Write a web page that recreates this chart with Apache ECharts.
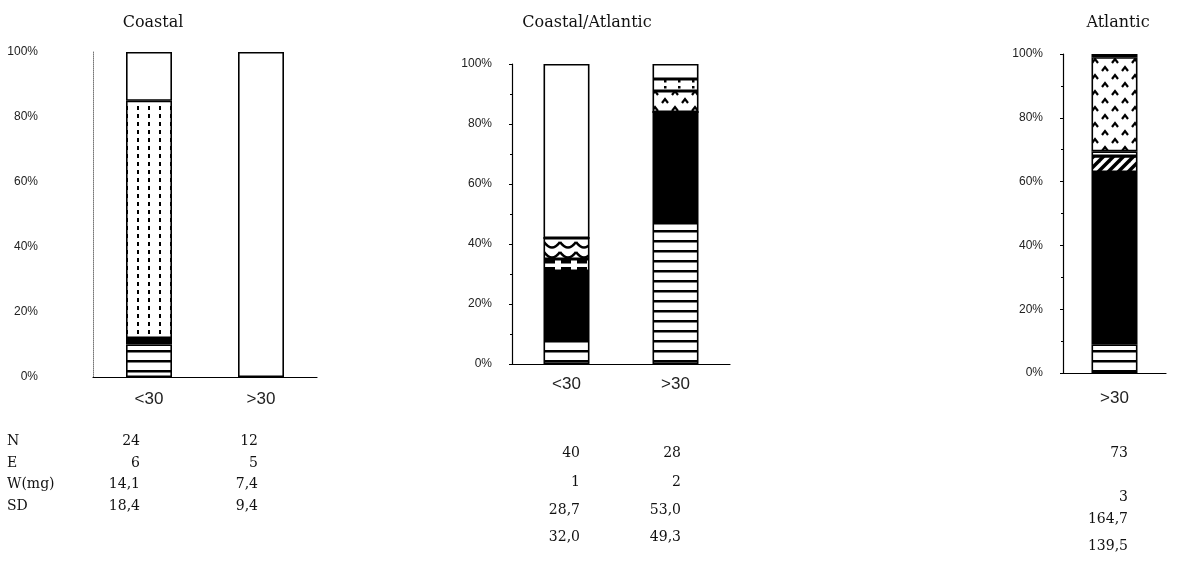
<!DOCTYPE html>
<html>
<head>
<meta charset="utf-8">
<script src="https://cdn.jsdelivr.net/npm/echarts@6/dist/echarts.min.js"></script>
<style>
html,body{margin:0;padding:0;background:#fff;}
#chart{width:1183px;height:573px;}
</style>
</head>
<body>
<div id="chart"></div>
<script>
// ---------- DATA ----------
const panelTitles = ['Coastal', 'Coastal/Atlantic', 'Atlantic'];
const yTickLabels = ['0%', '20%', '40%', '60%', '80%', '100%'];

// Panel 1: Coastal (percent of each bar, bottom to top)
const coastalCategories = ['<30', '>30'];
const coastalStriped = [10, 0];
const coastalBlack = [2, 0];
const coastalDotted = [73, 0];
const coastalBlank = [15, 100];

// Panel 2: Coastal/Atlantic
const mixedCategories = ['<30', '>30'];
const mixedStriped = [8, 47];
const mixedBlack = [23, 37];
const mixedDashed = [4, 0];
const mixedWavy = [7, 0];
const mixedCaret = [0, 7];
const mixedSpeckled = [0, 4];
const mixedBlank = [58, 5];

// Panel 3: Atlantic
const atlanticCategories = ['>30'];
const atlanticStriped = [9];
const atlanticBlack = [54];
const atlanticHatched = [5];
const atlanticGap = [1.5];
const atlanticCaret = [29.5];
const atlanticBlank = [1];

// Table under the bars
const statLabels = ['N', 'E', 'W(mg)', 'SD'];
const coastalLt30Stats = ['24', '6', '14,1', '18,4'];
const coastalGt30Stats = ['12', '5', '7,4', '9,4'];
const mixedLt30Stats = ['40', '1', '28,7', '32,0'];
const mixedGt30Stats = ['28', '2', '53,0', '49,3'];
const atlanticGt30Stats = ['73', '3', '164,7', '139,5'];

// ---------- PATTERNS ----------
function makePattern(w, h, draw) {
  const c = document.createElement('canvas');
  c.width = w; c.height = h;
  const ctx = c.getContext('2d');
  ctx.fillStyle = '#fff'; ctx.fillRect(0, 0, w, h);
  ctx.fillStyle = '#000'; ctx.strokeStyle = '#000';
  draw(ctx);
  return { image: c, repeat: 'repeat' };
}
const P = {
  striped: makePattern(8, 10, ctx => ctx.fillRect(0, 0, 8, 2.5)),
  black: '#000',
  dotted: makePattern(11, 8, ctx => ctx.fillRect(5, 2, 2, 4)),
  dashed: makePattern(16, 7, ctx => { ctx.fillRect(1, 1, 10, 3.5); }),
  wavy: makePattern(16, 10, ctx => {
    ctx.lineWidth = 2.5; ctx.beginPath(); ctx.moveTo(0, 2);
    ctx.quadraticCurveTo(8, 13, 16, 2); ctx.stroke();
  }),
  caret: makePattern(20, 16, ctx => {
    ctx.lineWidth = 2.2;
    ctx.beginPath(); ctx.moveTo(2, 7); ctx.lineTo(5, 3); ctx.lineTo(8, 7); ctx.stroke();
    ctx.beginPath(); ctx.moveTo(12, 15); ctx.lineTo(15, 11); ctx.lineTo(18, 15); ctx.stroke();
  }),
  speckled: makePattern(14, 6, ctx => ctx.fillRect(6, 2, 2.5, 2.5)),
  hatched: makePattern(10, 10, ctx => {
    ctx.lineWidth = 3.5;
    ctx.beginPath(); ctx.moveTo(-2, 12); ctx.lineTo(12, -2); ctx.stroke();
    ctx.beginPath(); ctx.moveTo(-7, 7); ctx.lineTo(7, -7); ctx.stroke();
    ctx.beginPath(); ctx.moveTo(3, 17); ctx.lineTo(17, 3); ctx.stroke();
  }),
  blank: '#fff'
};

function seg(name, data, idx, fill) {
  return {
    type: 'bar', name: name, data: data, stack: 'p' + idx,
    xAxisIndex: idx, yAxisIndex: idx, barWidth: 46,
    itemStyle: { color: fill, borderColor: '#000', borderWidth: 1.6 },
    emphasis: { disabled: true }, silent: true
  };
}

const series = [
  seg('striped', coastalStriped, 0, P.striped),
  seg('black', coastalBlack, 0, P.black),
  seg('dotted', coastalDotted, 0, P.dotted),
  seg('blank', coastalBlank, 0, P.blank),

  seg('striped', mixedStriped, 1, P.striped),
  seg('black', mixedBlack, 1, P.black),
  seg('dashed', mixedDashed, 1, P.dashed),
  seg('wavy', mixedWavy, 1, P.wavy),
  seg('caret', mixedCaret, 1, P.caret),
  seg('speckled', mixedSpeckled, 1, P.speckled),
  seg('blank', mixedBlank, 1, P.blank),

  seg('striped', atlanticStriped, 2, P.striped),
  seg('black', atlanticBlack, 2, P.black),
  seg('hatched', atlanticHatched, 2, P.hatched),
  seg('gap', atlanticGap, 2, P.blank),
  seg('caret', atlanticCaret, 2, P.caret),
  seg('blank', atlanticBlank, 2, P.blank)
];

const sansLabel = { fontFamily: 'Liberation Sans', fontSize: 12, color: '#222' };
const grids = [
  { left: 93, top: 52, width: 224, height: 325 },
  { left: 512, top: 64, width: 218, height: 300 },
  { left: 1063, top: 54, width: 103, height: 319 }
];
const catMargins = [14, 12, 17];
const yMargins = [55, 20, 20];
const cats = [coastalCategories, mixedCategories, atlanticCategories];

const xAxes = cats.map((c, i) => ({
  type: 'category', gridIndex: i, data: c,
  axisLine: { lineStyle: { color: '#000', width: 1.2 } },
  axisTick: { show: false },
  axisLabel: { fontFamily: 'Liberation Sans', fontSize: 17, color: '#222', margin: catMargins[i] }
}));
const yAxes = [0, 1, 2].map(i => ({
  type: 'value', gridIndex: i, min: 0, max: 100, interval: 20,
  axisLine: { show: true, lineStyle: i === 0 ? { color: '#777', type: 'dotted', width: 1 } : { color: '#000', width: 1.2 } },
  axisTick: { show: i !== 0, length: 3, lineStyle: { color: '#000' } },
  minorTick: { show: i !== 0, splitNumber: 2, length: 2, lineStyle: { color: '#000' } },
  splitLine: { show: false },
  axisLabel: Object.assign({}, sansLabel, {
    margin: yMargins[i],
    formatter: v => yTickLabels[Math.round(v / 20)]
  })
}));

const titleCenters = [148, 582, 1113];
const titles = panelTitles.map((t, i) => ({
  text: t, left: titleCenters[i], top: 10, textAlign: 'center',
  textStyle: { fontFamily: 'DejaVu Serif', fontSize: 16, fontWeight: 'normal', color: '#111' }
}));

// table text
const serif = { fontFamily: 'DejaVu Serif', fontSize: 14, fill: '#111' };
const graphics = [];
const rowY1 = [441, 463, 484, 506];
statLabels.forEach((s, r) => graphics.push({
  type: 'text', x: 7, y: rowY1[r],
  style: Object.assign({ text: s, verticalAlign: 'middle' }, serif)
}));
function column(vals, rightX, rowsY) {
  vals.forEach((v, r) => graphics.push({
    type: 'text', x: rightX, y: rowsY[r],
    style: Object.assign({ text: v, align: 'right', verticalAlign: 'middle' }, serif)
  }));
}
column(coastalLt30Stats, 140, rowY1);
column(coastalGt30Stats, 258, rowY1);
const rowY2 = [453, 482, 510, 537];
column(mixedLt30Stats, 580, rowY2);
column(mixedGt30Stats, 681, rowY2);
const rowY3 = [453, 497, 519, 546];
column(atlanticGt30Stats, 1128, rowY3);

const chart = echarts.init(document.getElementById('chart'), null, { renderer: 'canvas' });
chart.setOption({
  animation: false,
  backgroundColor: '#fff',
  title: titles,
  grid: grids,
  xAxis: xAxes,
  yAxis: yAxes,
  series: series,
  graphic: graphics
});
</script>
</body>
</html>
